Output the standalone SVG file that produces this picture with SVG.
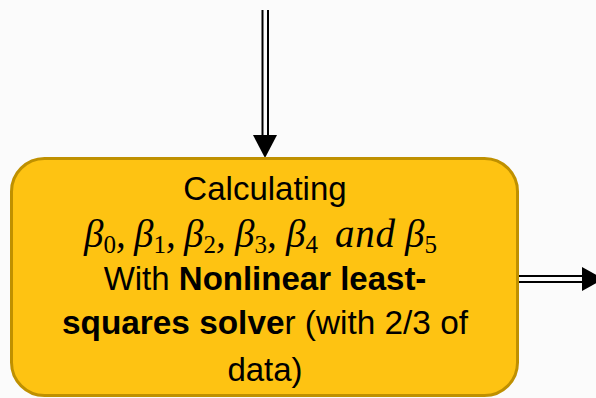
<svg xmlns="http://www.w3.org/2000/svg" width="596" height="398" viewBox="0 0 596 398">
<defs>
<style>
.bg{fill:#FBFBFB}
.box{fill:#FEC312;stroke:#BF9000;stroke-width:3}
.t{font-family:"Liberation Sans",Arial,sans-serif;font-size:33px;fill:#000;text-anchor:middle}
.b{font-weight:bold}
.m{font-family:"Liberation Serif","Times New Roman",serif;font-size:39px;font-style:italic;fill:#000}
.s{font-style:normal;font-size:25px}
.ln{stroke:#000;stroke-width:2;fill:none}
.hd{fill:#000}
</style>
</defs>
<rect class="bg" x="0" y="0" width="596" height="398"/>
<g id="connectors">
<line class="ln" x1="262.5" y1="10" x2="262.5" y2="137"/>
<line class="ln" x1="268" y1="10" x2="268" y2="137"/>
<polygon class="hd" points="253,135 277,135 265,158"/>
<line class="ln" x1="519" y1="276" x2="584" y2="276"/>
<line class="ln" x1="519" y1="282" x2="584" y2="282"/>
<polygon class="hd" points="582,267 582,291 604,279"/>
</g>
<g id="node-calc">
<rect class="box" x="11.5" y="158.5" width="506" height="237" rx="33" ry="33"/>
<text class="t" x="265" y="200">Calculating</text>
<text class="m" y="247"><tspan x="84">β</tspan><tspan class="s" dy="6">0</tspan><tspan dy="-6">,</tspan><tspan x="134">β</tspan><tspan class="s" dy="6">1</tspan><tspan dy="-6">,</tspan><tspan x="184">β</tspan><tspan class="s" dy="6">2</tspan><tspan dy="-6">,</tspan><tspan x="235">β</tspan><tspan class="s" dy="6">3</tspan><tspan dy="-6">,</tspan><tspan x="286">β</tspan><tspan class="s" dy="6">4</tspan><tspan x="335" dy="-6" textLength="60" lengthAdjust="spacing">and</tspan><tspan x="405">β</tspan><tspan class="s" dy="6">5</tspan></text>
<text class="t" x="265" y="290">With <tspan class="b">Nonlinear least-</tspan></text>
<text class="t" x="265" y="334" textLength="406" lengthAdjust="spacingAndGlyphs"><tspan class="b">squares solve</tspan>r (with 2/3 of</text>
<text class="t" x="265" y="381">data)</text>
</g>
</svg>
